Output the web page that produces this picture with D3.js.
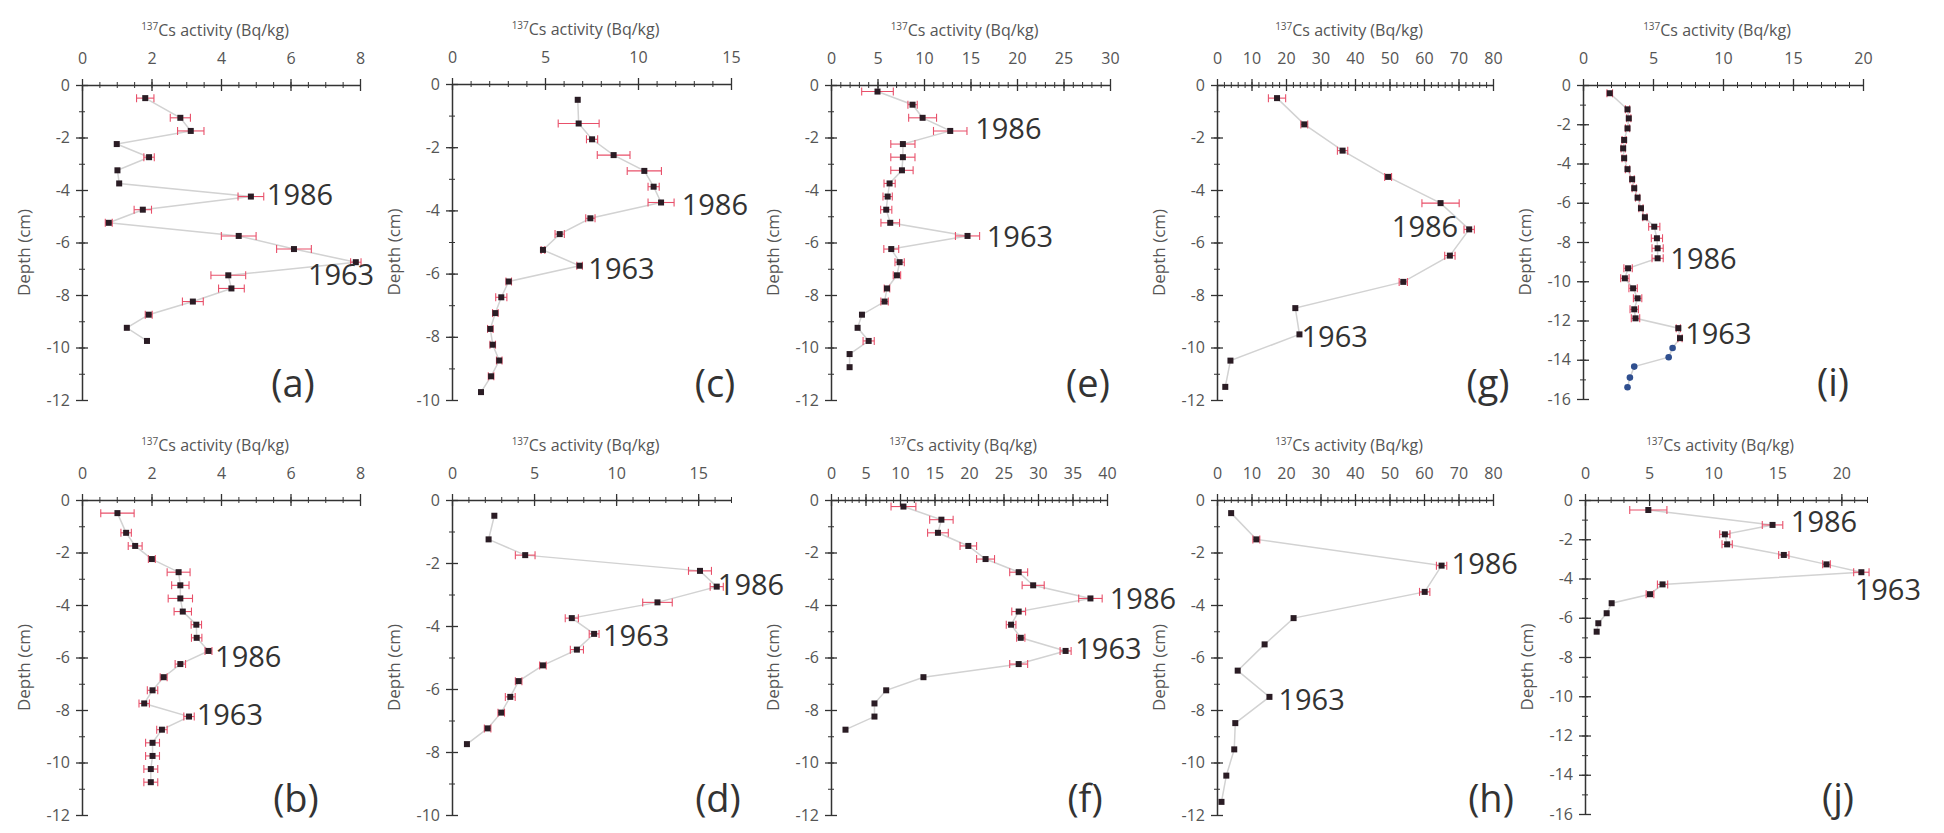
<!DOCTYPE html>
<html>
<head>
<meta charset="utf-8">
<script src="https://cdn.jsdelivr.net/npm/d3@7"></script>
<style>
  body { margin: 0; background: #fff; }
  svg { display: block; font-family: 'Open Sans', 'Noto Sans', sans-serif; }
</style>
</head>
<body>
<div id="chart"></div>
<script>
// ---- data: depth (cm), 137Cs activity (Bq/kg), error (+/-) ----
const depthA = [-0.5, -1.25, -1.75, -2.25, -2.75, -3.25, -3.75, -4.25, -4.75, -5.25, -5.75, -6.25, -6.75, -7.25, -7.75, -8.25, -8.75, -9.25, -9.75];
const csA = [1.82, 2.83, 3.13, 1.0, 1.93, 1.02, 1.07, 4.86, 1.75, 0.77, 4.51, 6.1, 7.88, 4.21, 4.3, 3.19, 1.92, 1.29, 1.87];
const errA = [0.25, 0.29, 0.38, 0, 0.15, 0, 0, 0.37, 0.25, 0.1, 0.5, 0.5, 0.15, 0.5, 0.37, 0.3, 0.1, 0, 0];

const depthB = [-0.5, -1.25, -1.75, -2.25, -2.75, -3.25, -3.75, -4.25, -4.75, -5.25, -5.75, -6.25, -6.75, -7.25, -7.75, -8.25, -8.75, -9.25, -9.75, -10.25, -10.75];
const csB = [1.02, 1.27, 1.53, 2.01, 2.78, 2.83, 2.83, 2.9, 3.29, 3.3, 3.64, 2.83, 2.35, 2.03, 1.79, 3.08, 2.3, 2.03, 2.03, 1.98, 1.98];
const errB = [0.48, 0.15, 0.2, 0.1, 0.33, 0.25, 0.35, 0.25, 0.15, 0.15, 0.1, 0.15, 0.1, 0.15, 0.15, 0.15, 0.15, 0.2, 0.2, 0.2, 0.2];

const depthC = [-0.5, -1.25, -1.75, -2.25, -2.75, -3.25, -3.75, -4.25, -4.75, -5.25, -5.75, -6.25, -6.75, -7.25, -7.75, -8.25, -8.75, -9.25, -9.75];
const csC = [6.76, 6.81, 7.53, 8.69, 10.34, 10.84, 11.24, 7.44, 5.79, 4.89, 6.86, 3.05, 2.65, 2.33, 2.06, 2.19, 2.54, 2.1, 1.56];
const errC = [0, 1.1, 0.3, 0.88, 0.92, 0.3, 0.7, 0.25, 0.25, 0.1, 0.15, 0.15, 0.3, 0.15, 0.15, 0.15, 0.15, 0.15, 0];

const depthD = [-0.5, -1.25, -1.75, -2.25, -2.75, -3.25, -3.75, -4.25, -4.75, -5.25, -5.75, -6.25, -6.75, -7.25, -7.75];
const csD = [2.58, 2.23, 4.46, 15.11, 16.13, 12.52, 7.3, 8.66, 7.61, 5.54, 4.06, 3.55, 3.0, 2.17, 0.91];
const errD = [0, 0, 0.6, 0.7, 0.4, 0.9, 0.4, 0.3, 0.4, 0.2, 0.2, 0.3, 0.2, 0.2, 0];

const depthE = [-0.25, -0.75, -1.25, -1.75, -2.25, -2.75, -3.25, -3.75, -4.25, -4.75, -5.25, -5.75, -6.25, -6.75, -7.25, -7.75, -8.25, -8.75, -9.25, -9.75, -10.25, -10.75];
const csE = [5.0, 8.77, 9.85, 12.82, 7.73, 7.73, 7.63, 6.3, 6.09, 5.94, 6.37, 14.68, 6.48, 7.38, 7.09, 6.02, 5.76, 3.33, 2.86, 4.05, 2.0, 2.0];
const errE = [1.7, 0.5, 1.5, 1.8, 1.3, 1.3, 1.2, 0.6, 0.5, 0.6, 1.0, 1.3, 0.8, 0.5, 0.4, 0.3, 0.4, 0, 0, 0.6, 0, 0];

const depthF = [-0.25, -0.75, -1.25, -1.75, -2.25, -2.75, -3.25, -3.75, -4.25, -4.75, -5.25, -5.75, -6.25, -6.75, -7.25, -7.75, -8.25, -8.75];
const csF = [10.5, 16.0, 15.5, 19.9, 22.4, 27.2, 29.3, 37.6, 27.2, 26.1, 27.5, 34.0, 27.2, 13.4, 8.0, 6.3, 6.3, 2.1];
const errF = [1.8, 1.7, 1.5, 1.2, 1.3, 1.3, 1.6, 1.7, 1.0, 0.7, 0.6, 0.8, 1.3, 0, 0, 0, 0, 0];

const depthG = [-0.5, -1.5, -2.5, -3.5, -4.5, -5.5, -6.5, -7.5, -8.5, -9.5, -10.5, -11.5];
const csG = [17.4, 25.3, 36.4, 49.6, 64.8, 73.1, 67.5, 54.0, 22.7, 23.9, 3.9, 2.4];
const errG = [2.5, 1, 1.5, 1, 5.4, 1.5, 1.5, 1.2, 0, 0, 0, 0];

const depthH = [-0.5, -1.5, -2.5, -3.5, -4.5, -5.5, -6.5, -7.5, -8.5, -9.5, -10.5, -11.5];
const csH = [4.1, 11.4, 65.1, 60.2, 22.2, 13.8, 6.0, 15.2, 5.3, 5.0, 2.7, 1.3];
const errH = [0, 1, 1.5, 1.5, 0, 0, 0, 0, 0, 0, 0, 0];

const depthI = [-0.42, -1.24, -1.7, -2.21, -2.8, -3.23, -3.73, -4.29, -4.8, -5.26, -5.74, -6.28, -6.74, -7.22, -7.81, -8.32, -8.83, -9.34, -9.85, -10.36, -10.87, -11.43, -11.89, -12.39, -12.9, -13.4, -13.87, -14.35, -14.91, -15.4];
const csI = [1.91, 3.18, 3.27, 3.18, 2.94, 2.87, 2.94, 3.18, 3.51, 3.66, 3.9, 4.14, 4.42, 5.09, 5.28, 5.33, 5.33, 3.22, 2.99, 3.58, 3.9, 3.66, 3.75, 6.81, 6.93, 6.4, 6.12, 3.66, 3.35, 3.18];
const errI = [0.2, 0.15, 0.15, 0.15, 0.15, 0.15, 0.15, 0.15, 0.15, 0.15, 0.15, 0.15, 0.15, 0.4, 0.4, 0.4, 0.4, 0.3, 0.3, 0.3, 0.3, 0.3, 0.3, 0.15, 0.15, 0, 0, 0, 0, 0];
const blueStartI = 25; // last core section drawn in blue

const depthJ = [-0.51, -1.27, -1.75, -2.26, -2.8, -3.28, -3.68, -4.3, -4.8, -5.26, -5.77, -6.28, -6.71];
const csJ = [4.94, 14.63, 10.91, 11.09, 15.51, 18.84, 21.56, 6.05, 5.07, 2.08, 1.69, 1.04, 0.91];
const errJ = [1.45, 0.8, 0.4, 0.4, 0.4, 0.3, 0.6, 0.4, 0.3, 0, 0, 0, 0];

// dating labels: [text, activity, depth, anchor]
const labelsA = [['1986', 5.32, -4.19, 'start'], ['1963', 6.5, -7.24, 'start']];
const labelsB = [['1986', 3.83, -5.97, 'start'], ['1963', 3.3, -8.19, 'start']];
const labelsC = [['1986', 12.35, -3.83, 'start'], ['1963', 7.33, -5.83, 'start']];
const labelsD = [['1986', 16.2, -2.7, 'start'], ['1963', 9.2, -4.29, 'start']];
const labelsE = [['1986', 15.5, -1.65, 'start'], ['1963', 16.75, -5.78, 'start']];
const labelsF = [['1986', 40.4, -3.75, 'start'], ['1963', 35.4, -5.65, 'start']];
const labelsG = [['1986', 69.9, -5.4, 'end'], ['1963', 24.5, -9.59, 'start']];
const labelsH = [['1986', 68, -2.41, 'start'], ['1963', 17.8, -7.62, 'start']];
const labelsI = [['1986', 6.24, -8.83, 'start'], ['1963', 7.3, -12.65, 'start']];
const labelsJ = [['1986', 16.06, -1.1, 'start'], ['1963', 21.04, -4.58, 'start']];

// ---- panel layout (page pixels) ----
const panels = [
  { tag: '(a)', depth: depthA, cs: csA, err: errA, labels: labelsA, xMax: 8, xMajor: 2, xMinor: 0.5, yMin: -12, box: [82, 360, 85, 400], tagX: 293 },
  { tag: '(b)', depth: depthB, cs: csB, err: errB, labels: labelsB, xMax: 8, xMajor: 2, xMinor: 0.5, yMin: -12, box: [82, 360, 500, 815], tagX: 296 },
  { tag: '(c)', depth: depthC, cs: csC, err: errC, labels: labelsC, xMax: 15, xMajor: 5, xMinor: 1, yMin: -10, box: [452, 731, 84, 400], tagX: 715 },
  { tag: '(d)', depth: depthD, cs: csD, err: errD, labels: labelsD, xMax: 17, xMajor: 5, xMinor: 1, yMin: -10, box: [452, 731, 500, 815], tagX: 718 },
  { tag: '(e)', depth: depthE, cs: csE, err: errE, labels: labelsE, xMax: 30, xMajor: 5, xMinor: 1, yMin: -12, box: [831, 1110, 85, 400], tagX: 1088 },
  { tag: '(f)', depth: depthF, cs: csF, err: errF, labels: labelsF, xMax: 40, xMajor: 5, xMinor: 1, yMin: -12, box: [831, 1107, 500, 815], tagX: 1085 },
  { tag: '(g)', depth: depthG, cs: csG, err: errG, labels: labelsG, xMax: 80, xMajor: 10, xMinor: 2, yMin: -12, box: [1217, 1493, 85, 400], tagX: 1488 },
  { tag: '(h)', depth: depthH, cs: csH, err: errH, labels: labelsH, xMax: 80, xMajor: 10, xMinor: 2, yMin: -12, box: [1217, 1493, 500, 815], tagX: 1491 },
  { tag: '(i)', depth: depthI, cs: csI, err: errI, labels: labelsI, xMax: 20, xMajor: 5, xMinor: 1, yMin: -16, box: [1583, 1863, 85, 399], tagX: 1833, blueFrom: blueStartI },
  { tag: '(j)', depth: depthJ, cs: csJ, err: errJ, labels: labelsJ, xMax: 22, xMajor: 5, xMinor: 1, yMin: -16, box: [1585, 1867, 500, 814], tagX: 1838 }
];

const width = 1944, height = 833;
const svg = d3.select('#chart').append('svg').attr('width', width).attr('height', height);
svg.append('rect').attr('width', width).attr('height', height).attr('fill', '#fff');

function range(a, b, step) {
  const out = [];
  for (let v = a; v <= b + 1e-9; v += step) out.push(+v.toFixed(4));
  return out;
}

panels.forEach((p) => {
  const [x0, x1, y0, y1] = p.box;
  const x = d3.scaleLinear().domain([0, p.xMax]).range([x0, x1]);
  const y = d3.scaleLinear().domain([0, p.yMin]).range([y0, y1]);
  const g = svg.append('g').attr('class', 'panel');

  // minor ticks (cross the axis)
  const xMinorTicks = range(0, p.xMax, p.xMinor);
  const yMinorTicks = range(p.yMin, 0, 1);
  const xMajorTicks = range(0, p.xMax, p.xMajor);
  const yMajorTicks = range(p.yMin, 0, 2);

  const xAxisMinor = g.append('g').attr('transform', `translate(0,${y0})`)
    .call(d3.axisTop(x).tickValues(xMinorTicks).tickFormat('').tickSizeOuter(0));
  xAxisMinor.selectAll('.tick line').attr('y1', -3).attr('y2', 3).attr('stroke', '#333');
  xAxisMinor.select('.domain').remove();

  const yAxisMinor = g.append('g').attr('transform', `translate(${x0},0)`)
    .call(d3.axisLeft(y).tickValues(yMinorTicks).tickFormat('').tickSizeOuter(0));
  yAxisMinor.selectAll('.tick line').attr('x1', -3).attr('x2', 3).attr('stroke', '#333');
  yAxisMinor.select('.domain').remove();

  const xAxis = g.append('g').attr('transform', `translate(0,${y0})`)
    .call(d3.axisTop(x).tickValues(xMajorTicks).tickFormat(d3.format('d')).tickSizeOuter(0));
  xAxis.select('.domain').attr('stroke', '#333').attr('stroke-width', 1.5);
  xAxis.selectAll('.tick line').attr('y1', -6).attr('y2', 6).attr('stroke', '#333').attr('stroke-width', 1.3);
  xAxis.selectAll('.tick text').attr('y', -21).attr('dy', 0)
    .attr('font-size', 16).attr('fill', '#555').attr('font-family', "'Open Sans', sans-serif");

  const yAxis = g.append('g').attr('transform', `translate(${x0},0)`)
    .call(d3.axisLeft(y).tickValues(yMajorTicks).tickFormat(d3.format('d')).tickSizeOuter(0));
  yAxis.select('.domain').attr('stroke', '#333').attr('stroke-width', 1.5);
  yAxis.selectAll('.tick line').attr('x1', -6).attr('x2', 6).attr('stroke', '#333').attr('stroke-width', 1.3);
  yAxis.selectAll('.tick text').attr('x', -12)
    .attr('font-size', 16).attr('fill', '#555').attr('font-family', "'Open Sans', sans-serif")
    .text((d) => (d === 0 ? '0' : '-' + Math.abs(d)));

  // axis titles
  const title = g.append('text')
    .attr('x', (x0 + x1) / 2 - 6).attr('y', y0 - 49)
    .attr('text-anchor', 'middle').attr('font-size', 16).attr('fill', '#555');
  title.append('tspan').attr('font-size', 10).attr('dy', -6).text('137');
  title.append('tspan').attr('dy', 6).text('Cs activity (Bq/kg)');

  g.append('text')
    .attr('transform', `translate(${x0 - 52},${(y0 + y1) / 2 + 10}) rotate(-90)`)
    .attr('text-anchor', 'middle').attr('font-size', 17).attr('fill', '#555')
    .text('Depth (cm)');

  // points
  const pts = p.depth.map((d, i) => ({ d, v: p.cs[i], e: p.err[i], i }));
  const isBlue = (q) => p.blueFrom !== undefined && q.i >= p.blueFrom;

  g.append('path').datum(pts)
    .attr('fill', 'none').attr('stroke', '#d2d2d2').attr('stroke-width', 1.5)
    .attr('d', d3.line().x((q) => x(q.v)).y((q) => y(q.d)));

  const eb = g.append('g').attr('stroke', '#e8506a').attr('stroke-width', 1.1)
    .selectAll('g').data(pts.filter((q) => q.e > 0)).join('g');
  eb.append('line')
    .attr('x1', (q) => x(q.v - q.e)).attr('x2', (q) => x(q.v + q.e))
    .attr('y1', (q) => y(q.d)).attr('y2', (q) => y(q.d));
  eb.append('line')
    .attr('x1', (q) => x(q.v - q.e)).attr('x2', (q) => x(q.v - q.e))
    .attr('y1', (q) => y(q.d) - 4).attr('y2', (q) => y(q.d) + 4);
  eb.append('line')
    .attr('x1', (q) => x(q.v + q.e)).attr('x2', (q) => x(q.v + q.e))
    .attr('y1', (q) => y(q.d) - 4).attr('y2', (q) => y(q.d) + 4);

  // dark square markers, blue round markers for the deepest sections of (i)
  g.append('g').selectAll('rect').data(pts.filter((q) => !isBlue(q))).join('rect')
    .attr('x', (q) => x(q.v) - 3).attr('y', (q) => y(q.d) - 3)
    .attr('width', 6).attr('height', 6)
    .attr('fill', '#2a1c24');
  g.append('g').selectAll('circle').data(pts.filter(isBlue)).join('circle')
    .attr('cx', (q) => x(q.v)).attr('cy', (q) => y(q.d)).attr('r', 3.3)
    .attr('fill', '#2f4f8f');

  // dating horizons
  g.append('g').selectAll('text').data(p.labels).join('text')
    .attr('x', (l) => x(l[1])).attr('y', (l) => y(l[2]))
    .attr('dy', '0.36em').attr('text-anchor', (l) => l[3])
    .attr('font-size', 29).attr('fill', '#333')
    .text((l) => l[0]);

  // panel tag
  g.append('text')
    .attr('x', p.tagX).attr('y', y1 - 17).attr('dy', '0.36em')
    .attr('text-anchor', 'middle').attr('font-size', 38).attr('fill', '#333')
    .text(p.tag);
});
</script>
</body>
</html>
